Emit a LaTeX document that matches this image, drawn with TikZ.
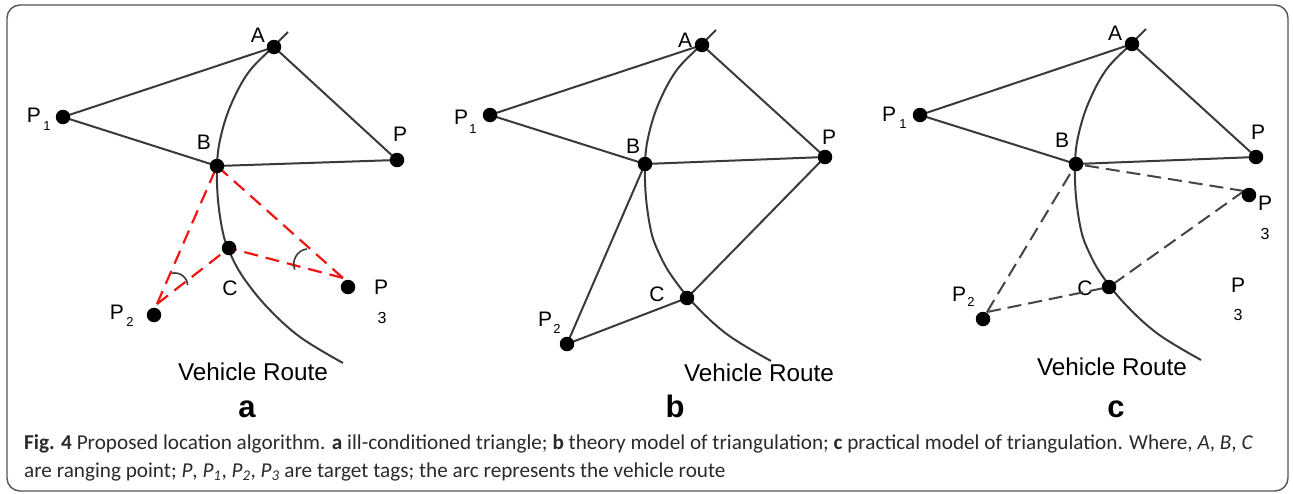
\documentclass[tikz,border=0pt]{standalone}
\usepackage{fontspec}
\setmainfont{Liberation Sans}
\newfontfamily\capfont{Carlito}
\usetikzlibrary{arrows.meta,calc}
\definecolor{ink}{HTML}{3A3A3A}
\definecolor{rd}{HTML}{F01414}
\definecolor{dg}{HTML}{454545}
\definecolor{framecol}{HTML}{555555}
\definecolor{captext}{HTML}{2A2A2A}
\begin{document}
\begin{tikzpicture}[x=1pt,y=-1pt,
  dot/.style={circle,fill=black,inner sep=0pt,minimum size=14.5pt},
  edge/.style={draw=ink,line width=2pt},
  route/.style={draw=ink,line width=2pt},
  reddash/.style={draw=rd,line width=2.2pt,dash pattern=on 14pt off 8pt},
  graydash/.style={draw=dg,line width=2pt,dash pattern=on 14pt off 7pt},
  anglemark/.style={draw=ink,line width=1.6pt},
  lab/.style={inner sep=0pt,font=\fontsize{21}{23}\selectfont},
  sub/.style={inner sep=0pt,font=\fontsize{13}{14}\selectfont},
  subb/.style={inner sep=0pt,font=\fontsize{16}{17}\selectfont},
  vr/.style={inner sep=0pt,font=\fontsize{24.3}{26}\selectfont},
  plab/.style={inner sep=0pt,anchor=base,font=\fontsize{31}{33}\selectfont\bfseries},
  captxt/.style={inner sep=0pt,anchor=base west,text=captext,font=\capfont\fontsize{21.2}{24}\selectfont},
  routearc/.pic={\draw[route] plot[smooth,tension=0.6] coordinates {(288,32) (273,47) (248,73) (230,107) (220,140) (217,167) (218,200) (223,233) (230,253) (243,277) (267,307) (300,337) (343,363)};}
  ]
\useasboundingbox (0,0) rectangle (1293,493);
\draw[framecol,line width=1.4pt,rounded corners=13pt] (7,5) rectangle (1288,491);

% ---------- panel a ----------
\coordinate (aA) at (274,47);
\coordinate (aP1) at (63,117);
\coordinate (aB) at (217,166);
\coordinate (aP) at (397,160);
\coordinate (aC) at (229,248);
\coordinate (aP2) at (154,315);
\coordinate (aP3) at (348,287);
\coordinate (aT2) at (157,304);
\coordinate (aT3) at (343,278);
\pic at (0,0) {routearc};
\draw[edge] (aP1) -- (aA) -- (aP);
\draw[edge] (aP1) -- (aB) -- (aP);
\draw[reddash] (aT2) -- (aB);
\draw[reddash] (aT2) -- (aC);
\draw[reddash] (aT3) -- (aB);
\draw[reddash] (aT3) -- (aC);
\coordinate (m2a) at ($(aP2)!45pt!(aB)$);
\coordinate (m2b) at ($(aP2)!45pt!(aC)$);
\coordinate (m3a) at ($(aP3)!56pt!(aB)$);
\coordinate (m3b) at ($(aP3)!56pt!(aC)$);
\draw[anglemark] (m2a) to[bend left=55] (m2b);
\draw[anglemark] (m3a) to[bend right=55] (m3b);
\foreach \n in {aA,aP1,aB,aP,aC,aP2,aP3} {\node[dot] at (\n) {};}
\node[lab] (laA) at (258,35) {A};
\node[lab] (laP1) at (34,115) {P};
\node[sub] (laP1s) at (47,126) {1};
\node[lab] (laB) at (204,142) {B};
\node[lab] (laP) at (400,134) {P};
\node[lab] (laC) at (230,288) {C};
\node[lab] (laP2) at (117,312) {P};
\node[sub] (laP2s) at (130,322) {2};
\node[lab] (laP3) at (381,287) {P};
\node[subb] (laP3s) at (382,318) {3};
\node[vr] (lavr) at (253,372) {Vehicle Route};
\node[plab] (pa) at (247,417) {a};

% ---------- panel b ----------
\coordinate (bA) at (702,45);
\coordinate (bP1) at (490,115);
\coordinate (bB) at (645,164);
\coordinate (bP) at (825,157);
\coordinate (bC) at (687,298);
\coordinate (bP2) at (567,344);
\pic at (428,-2) {routearc};
\draw[edge] (bP1) -- (bA) -- (bP);
\draw[edge] (bP1) -- (bB) -- (bP);
\draw[edge] (bB) -- (bP2) -- (bC) -- (bP);
\foreach \n in {bA,bP1,bB,bP,bC,bP2} {\node[dot] at (\n) {};}
\node[lab] (lbA) at (685,40) {A};
\node[lab] (lbP1) at (461,117) {P};
\node[sub] (lbP1s) at (473,129) {1};
\node[lab] (lbB) at (633,146) {B};
\node[lab] (lbP) at (829,137) {P};
\node[lab] (lbC) at (657,294) {C};
\node[lab] (lbP2) at (545,319) {P};
\node[sub] (lbP2s) at (557,329) {2};
\node[vr] (lbvr) at (759,373) {Vehicle Route};
\node[plab] (pb) at (675,417) {b};

% ---------- panel c ----------
\coordinate (cA) at (1132,44);
\coordinate (cP1) at (920,115);
\coordinate (cB) at (1076,164);
\coordinate (cP) at (1256,157);
\coordinate (cP3) at (1249,195);
\coordinate (cC) at (1109,287);
\coordinate (cP2) at (983,319);
\coordinate (cT2) at (987,312);
\coordinate (cT3) at (1244,191);
\pic at (858,-3) {routearc};
\draw[edge] (cP1) -- (cA) -- (cP);
\draw[edge] (cP1) -- (cB) -- (cP);
\node[lab] (lcC) at (1085,288) {C};
\draw[graydash] (cT2) -- (cB);
\draw[graydash] (cT2) -- (cC);
\draw[graydash] (cT3) -- (cB);
\draw[graydash] (cT3) -- (cC);
\foreach \n in {cA,cP1,cB,cP,cP3,cC,cP2} {\node[dot] at (\n) {};}
\node[lab] (lcA) at (1115,33) {A};
\node[lab] (lcP1) at (889,114) {P};
\node[sub] (lcP1s) at (903,124) {1};
\node[lab] (lcB) at (1062,140) {B};
\node[lab] (lcP) at (1258,132) {P};
\node[lab] (lcP3) at (1265,203) {P};
\node[subb] (lcP3s) at (1265,234) {3};
\node[lab] (lcP2) at (959,294) {P};
\node[sub] (lcP2s) at (971,302) {2};
\node[lab] (lcQ) at (1238,285) {P};
\node[subb] (lcQs) at (1238,315) {3};
\node[vr] (lcvr) at (1112,367) {Vehicle Route};
\node[plab] (pc) at (1116,417) {c};

% ---------- caption ----------
\node[captxt] (cap1) at (24,449) {\textbf{Fig. 4} Proposed location algorithm. \textbf{a} ill-conditioned triangle; \textbf{b} theory model of triangulation; \textbf{c} practical model of triangulation. Where, \textit{A}, \textit{B}, \textit{C}};
\node[captxt] (cap2) at (24,477) {are ranging point; \textit{P}, \textit{P\textsubscript{1}}, \textit{P\textsubscript{2}}, \textit{P\textsubscript{3}} are target tags; the arc represents the vehicle route};
\end{tikzpicture}
\end{document}
